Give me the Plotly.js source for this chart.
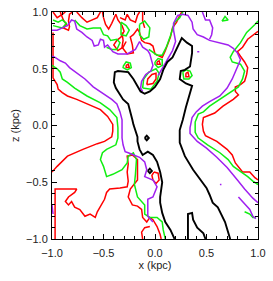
<!DOCTYPE html>
<html><head><meta charset="utf-8">
<script src="https://cdn.plot.ly/plotly-3.0.1.min.js"></script>
<style>html,body{margin:0;padding:0;background:#fff}#chart{width:273px;height:281px}</style>
</head><body><div id="chart"></div>
<script>
// ---- black contour (x in kpc, z in kpc) ----
const blackMainX = [0.19,0.15,0.10,0.07,0.05,0.05,0.07,0.05,0.02,-0.02,-0.07,-0.12,-0.15,-0.17,-0.17,-0.19,-0.21,-0.22,-0.24,-0.26,-0.31,-0.34,-0.38,-0.40,-0.39,-0.36,-0.26,-0.21,-0.17,-0.14,-0.10,-0.05,0.00,0.05,0.08,0.12,0.17,0.21,0.26,0.31,0.36,0.36,0.34,0.29,0.25,0.24,0.30,0.36,0.33,0.30,0.27,0.24,0.24,0.29,0.37,0.44,0.50,0.53,0.56,0.61,0.65,0.68,0.71,0.73];
const blackMainZ = [-1.00,-0.92,-0.85,-0.77,-0.68,-0.63,-0.50,-0.41,-0.32,-0.26,-0.23,-0.26,-0.21,-0.14,-0.10,-0.05,0.01,0.05,0.12,0.19,0.23,0.27,0.33,0.38,0.47,0.48,0.47,0.41,0.34,0.30,0.28,0.30,0.34,0.41,0.49,0.56,0.60,0.67,0.77,0.73,0.70,0.64,0.52,0.49,0.48,0.41,0.37,0.35,0.26,0.16,0.05,-0.04,-0.15,-0.27,-0.39,-0.48,-0.55,-0.61,-0.68,-0.72,-0.80,-0.85,-0.94,-1.00];
const blackLoopX = [0.32,0.32,0.36,0.37,0.41,0.47,0.49];
const blackLoopZ = [-1.00,-0.78,-0.77,-0.83,-0.90,-0.95,-1.00];
const blackRing1X = [-0.07,-0.05,-0.03,-0.05,-0.07];
const blackRing1Z = [-0.40,-0.38,-0.40,-0.42,-0.40];
const blackRing2X = [-0.10,-0.08,-0.06,-0.08,-0.10];
const blackRing2Z = [-0.11,-0.09,-0.11,-0.13,-0.11];

// ---- purple contour ----
const purpleLeftX = [-1.00,-0.97,-0.92,-0.87,-0.83,-0.76,-0.68,-0.60,-0.53,-0.49,-0.42,-0.37,-0.34,-0.32,-0.32,-0.32,-0.31,-0.29,-0.26,-0.21,-0.15,-0.10,-0.08,-0.10,-0.02,0.02,-0.02,-0.07,-0.07,-0.02];
const purpleLeftZ = [0.61,0.60,0.57,0.55,0.51,0.46,0.41,0.34,0.30,0.27,0.23,0.19,0.12,0.05,-0.02,-0.11,-0.17,-0.23,-0.24,-0.26,-0.28,-0.32,-0.39,-0.45,-0.48,-0.54,-0.63,-0.65,-0.80,-0.85];
const purpleTopX = [-1.00,-0.95,-0.90,-0.85,-0.81,-0.78,-0.76,-0.71,-0.66,-0.61,-0.59,-0.55,-0.53,-0.50,-0.49,-0.46,-0.41,-0.36,-0.32,-0.27,-0.19,-0.15,-0.12,-0.07,-0.05,-0.03,-0.02,-0.04,-0.09,-0.13,-0.14,-0.12];
const purpleTopZ = [0.84,0.84,0.86,0.88,0.93,0.92,0.85,0.82,0.78,0.75,0.70,0.71,0.76,0.75,0.69,0.71,0.65,0.63,0.63,0.63,0.67,0.74,0.69,0.66,0.63,0.57,0.53,0.48,0.45,0.39,0.33,0.30];
const purpleRightX = [0.03,0.08,0.12,0.17,0.20,0.18,0.18,0.22,0.27,0.32,0.36,0.37,0.41,0.47,0.53,0.63,0.71,0.76,0.80,0.83,0.80,0.75,0.70,0.63,0.53,0.46,0.40,0.36,0.34,0.34,0.41,0.50,0.60,0.70,0.80,0.87,0.95,1.00];
const purpleRightZ = [0.44,0.52,0.59,0.66,0.74,0.84,0.90,0.97,0.98,0.97,0.91,0.85,0.80,0.78,0.75,0.73,0.71,0.68,0.64,0.58,0.51,0.41,0.33,0.26,0.21,0.17,0.12,0.07,-0.02,-0.07,-0.14,-0.20,-0.28,-0.37,-0.48,-0.56,-0.64,-0.68];
const purpleTongueX = [0.46,0.49,0.53,0.56,0.55,0.53];
const purpleTongueZ = [1.00,0.93,0.93,0.86,0.80,0.76];
const purpleLowX = [0.81,0.85,0.92,0.95,0.98];
const purpleLowZ = [-0.63,-0.67,-0.74,-0.80,-0.82];
const purpleEdgeX = [-1.00,-0.99];
const purpleEdgeZ = [-0.70,-0.78];
const purpleDot1X = [0.41,0.43];
const purpleDot1Z = [0.65,0.65];
const purpleDot2X = [0.63,0.645];
const purpleDot2Z = [-0.52,-0.52];

// ---- green contour ----
const greenLeftX = [-1.00,-0.95,-0.92,-0.90,-0.85,-0.78,-0.66,-0.53,-0.44,-0.37,-0.36,-0.36,-0.38,-0.42,-0.47,-0.51,-0.53,-0.50,-0.47,-0.41,-0.32,-0.27,-0.26,-0.21,-0.18,-0.19,-0.20,-0.17,-0.10,-0.10,-0.05,0.02,0.07,0.08,0.10];
const greenLeftZ = [0.53,0.50,0.47,0.41,0.38,0.33,0.26,0.20,0.14,0.07,-0.02,-0.11,-0.17,-0.19,-0.21,-0.24,-0.30,-0.36,-0.45,-0.43,-0.39,-0.33,-0.27,-0.24,-0.30,-0.43,-0.52,-0.63,-0.70,-0.78,-0.81,-0.81,-0.85,-0.92,-1.00];
const greenRightX = [1.00,0.97,0.89,0.83,0.76,0.73,0.75,0.83,0.87,0.85,0.81,0.73,0.63,0.53,0.47,0.42,0.39,0.39,0.42,0.51,0.63,0.71,0.76,0.84,0.90,0.95,1.00];
const greenRightZ = [0.92,0.89,0.82,0.73,0.65,0.60,0.56,0.54,0.48,0.41,0.34,0.29,0.23,0.17,0.12,0.10,0.03,-0.06,-0.11,-0.17,-0.24,-0.30,-0.36,-0.41,-0.45,-0.49,-0.52];
const greenLowX = [0.87,0.92,0.95,0.98];
const greenLowZ = [-0.76,-0.78,-0.81,-0.81];
const greenTop1X = [-0.99,-0.94,-0.90,-0.86,-0.90,-0.95,-0.99];
const greenTop1Z = [0.93,0.91,0.93,0.90,0.86,0.87,0.88];
const greenTop2X = [-0.78,-0.73,-0.66,-0.60,-0.53,-0.50,-0.46,-0.43,-0.37,-0.34,-0.37,-0.42,-0.47];
const greenTop2Z = [0.93,0.88,0.85,0.86,0.86,0.80,0.79,0.75,0.76,0.73,0.67,0.67,0.69];
const greenTop3X = [-0.33,-0.28,-0.25,-0.28,-0.33,-0.33];
const greenTop3Z = [0.91,0.88,0.84,0.79,0.80,0.91];
const greenTop4X = [-0.15,-0.10,-0.05,-0.06,-0.11,-0.15,-0.15];
const greenTop4Z = [0.89,0.92,0.86,0.78,0.76,0.80,0.89];
const greenBandX = [-0.06,-0.03,0.02,0.07,0.11,0.15,0.17,0.19,0.24,0.27];
const greenBandZ = [0.67,0.65,0.62,0.62,0.69,0.79,0.85,0.91,0.95,1.00];
const greenBlob1X = [-0.12,-0.11,-0.06,0.01,0.04,0.02,-0.04,-0.12];
const greenBlob1Z = [0.33,0.41,0.47,0.50,0.46,0.39,0.32,0.33];
const greenBlob2X = [0.00,0.03,0.07,0.07,0.03,0.00,0.00];
const greenBlob2Z = [0.56,0.59,0.58,0.53,0.51,0.54,0.56];
const greenBlob3X = [-0.31,-0.28,-0.24,-0.23,-0.27,-0.31,-0.31];
const greenBlob3Z = [0.52,0.56,0.55,0.51,0.49,0.51,0.52];
const greenBlob4X = [0.27,0.30,0.34,0.36,0.33,0.28,0.27];
const greenBlob4Z = [0.47,0.49,0.48,0.44,0.41,0.41,0.47];
const greenSpeckX = [0.65,0.68,0.71,0.65];
const greenSpeckZ = [0.92,0.96,0.93,0.92];

// ---- red contour ----
const redLeftX = [-0.99,-0.99,-0.95,-0.94,-0.90,-0.85,-0.76,-0.65,-0.53,-0.46,-0.41,-0.41,-0.42,-0.49,-0.56,-0.70,-0.85,-0.95,-1.00];
const redLeftZ = [0.82,0.42,0.36,0.32,0.29,0.26,0.23,0.19,0.14,0.08,0.01,-0.05,-0.10,-0.14,-0.16,-0.21,-0.27,-0.36,-0.41];
const redLowX = [-0.97,-0.97,-0.92,-0.76,-0.78,-0.84,-0.87,-0.84,-0.81,-0.78,-0.73,-0.68,-0.63,-0.58,-0.56,-0.53,-0.49,-0.47,-0.44,-0.34,-0.27,-0.26,-0.27,-0.26,-0.27,-0.22,-0.17,-0.17,-0.17,-0.24,-0.26,-0.22,-0.17,-0.13,-0.12,-0.08,-0.05,-0.02,0.02,0.05,0.06];
const redLowZ = [-1.00,-0.56,-0.56,-0.56,-0.59,-0.63,-0.67,-0.70,-0.67,-0.72,-0.74,-0.80,-0.78,-0.81,-0.76,-0.71,-0.65,-0.59,-0.56,-0.55,-0.54,-0.49,-0.41,-0.34,-0.27,-0.26,-0.30,-0.39,-0.48,-0.56,-0.63,-0.70,-0.71,-0.74,-0.81,-0.85,-0.81,-0.83,-0.89,-0.96,-1.00];
const redFootX = [-0.12,-0.13,-0.10,-0.05];
const redFootZ = [-1.00,-0.94,-0.90,-0.89];
const redRingX = [-0.01,0.03,0.04,0.01,-0.02,-0.03,-0.01];
const redRingZ = [-0.41,-0.42,-0.48,-0.51,-0.48,-0.44,-0.41];
const redRightX = [1.00,0.90,0.85,0.80,0.83,0.87,0.90,0.89,0.87,0.83,0.78,0.78,0.81,0.76,0.66,0.58,0.47,0.46,0.47,0.49,0.60,0.70,0.75,0.78,0.85,0.92,0.97,1.00];
const redRightZ = [0.83,0.76,0.69,0.65,0.61,0.56,0.51,0.45,0.39,0.36,0.34,0.30,0.27,0.23,0.17,0.11,0.07,0.01,-0.05,-0.09,-0.14,-0.21,-0.26,-0.33,-0.41,-0.41,-0.46,-0.48];
const redTop1X = [-0.99,-0.95,-0.90,-0.87];
const redTop1Z = [1.00,0.95,0.98,1.00];
const redTop2X = [-0.92,-0.89,-0.86,-0.89,-0.84,-0.83,-0.84,-0.83,-0.80];
const redTop2Z = [1.00,0.93,0.89,0.86,0.84,0.87,0.92,0.98,1.00];
const redTop3X = [-0.76,-0.71,-0.66,-0.61,-0.56,-0.53];
const redTop3Z = [1.00,0.95,0.91,0.93,0.95,1.00];
const redTop4X = [-0.51,-0.50,-0.48,-0.45,-0.42,-0.38,-0.36,-0.32,-0.30,-0.33,-0.37,-0.40,-0.36,-0.31,-0.28];
const redTop4Z = [1.00,0.95,0.89,0.85,0.90,0.98,0.93,0.88,0.83,0.78,0.75,0.71,0.66,0.69,0.74];
const redTop5X = [-0.32,-0.31,-0.32,-0.27,-0.21,-0.22,-0.24,-0.21,-0.17,-0.15,-0.13,-0.10,-0.05,-0.02,0.00,0.07,0.10,0.12,0.15,0.17,0.21,0.24,0.26];
const redTop5Z = [0.82,0.75,0.69,0.63,0.64,0.71,0.78,0.80,0.85,0.82,0.75,0.73,0.72,0.70,0.63,0.60,0.66,0.71,0.78,0.86,0.91,0.97,1.00];
const redTop6X = [-0.12,-0.12,-0.10];
const redTop6Z = [1.00,0.92,0.86];
const redTop7X = [-0.34,-0.29,-0.27,-0.24,-0.19,-0.17,-0.15];
const redTop7Z = [0.95,0.93,0.98,0.93,0.91,0.97,1.00];
const redBlob1X = [-0.08,-0.07,-0.03,0.01,0.01,-0.02,-0.08];
const redBlob1Z = [0.36,0.41,0.45,0.46,0.41,0.37,0.36];
const redBlob2X = [0.02,0.04,0.05,0.02,0.02];
const redBlob2Z = [0.56,0.57,0.54,0.54,0.56];
const redBlob3X = [-0.28,-0.26,-0.25,-0.28,-0.28];
const redBlob3Z = [0.53,0.54,0.51,0.51,0.53];
const redBlob4X = [0.30,0.32,0.33,0.30,0.30];
const redBlob4Z = [0.46,0.47,0.43,0.43,0.46];

const xTickVals = [-1.0,-0.5,0.0,0.5,1.0];
const zTickVals = [-1.0,-0.5,0.0,0.5,1.0];

function joinSegs(segs){
  const out = [];
  segs.forEach((s,i)=>{ if(i) out.push(null); s.forEach(v=>out.push(v)); });
  return out;
}

const groups = [
  {color:'#ff0000', w:1.5, xs:[redLeftX,redLowX,redFootX,redRingX,redRightX,redTop1X,redTop2X,redTop3X,redTop4X,redTop5X,redTop6X,redTop7X,redBlob1X,redBlob2X,redBlob3X,redBlob4X],
                    zs:[redLeftZ,redLowZ,redFootZ,redRingZ,redRightZ,redTop1Z,redTop2Z,redTop3Z,redTop4Z,redTop5Z,redTop6Z,redTop7Z,redBlob1Z,redBlob2Z,redBlob3Z,redBlob4Z]},
  {color:'#11ee11', w:1.5, xs:[greenLeftX,greenRightX,greenLowX,greenTop1X,greenTop2X,greenTop3X,greenTop4X,greenBandX,greenBlob1X,greenBlob2X,greenBlob3X,greenBlob4X,greenSpeckX],
                    zs:[greenLeftZ,greenRightZ,greenLowZ,greenTop1Z,greenTop2Z,greenTop3Z,greenTop4Z,greenBandZ,greenBlob1Z,greenBlob2Z,greenBlob3Z,greenBlob4Z,greenSpeckZ]},
  {color:'#a020f0', w:1.5, xs:[purpleLeftX,purpleTopX,purpleRightX,purpleTongueX,purpleLowX,purpleEdgeX,purpleDot1X,purpleDot2X],
                    zs:[purpleLeftZ,purpleTopZ,purpleRightZ,purpleTongueZ,purpleLowZ,purpleEdgeZ,purpleDot1Z,purpleDot2Z]},
  {color:'#000000', w:1.9, xs:[blackMainX,blackLoopX,blackRing1X,blackRing2X],
                    zs:[blackMainZ,blackLoopZ,blackRing1Z,blackRing2Z]}
];

const traces = groups.map(g=>({
  type:'scatter', mode:'lines', x:joinSegs(g.xs), y:joinSegs(g.zs),
  line:{color:g.color, width:g.w}, connectgaps:false, hoverinfo:'skip', showlegend:false
}));
// empty trace to carry the minor-tick overlay axes
traces.push({type:'scatter', mode:'lines', x:[null], y:[null], xaxis:'x2', yaxis:'y2', hoverinfo:'skip', showlegend:false});

const fontFam = 'Liberation Sans, Arial, sans-serif';
const axisBase = {
  range:[-1,1], showgrid:false, zeroline:false,
  showline:true, linecolor:'#000', linewidth:1, mirror:'allticks',
  ticks:'inside', ticklen:5, tickwidth:1, tickcolor:'#000',
  tickformat:'.1f', tickmode:'array',
  tickfont:{family:fontFam, size:11, color:'#222'}
};
const minorBase = {
  range:[-1,1], showgrid:false, zeroline:false, showline:false,
  mirror:'allticks', ticks:'inside', ticklen:3, tickwidth:1, tickcolor:'#000',
  tickmode:'linear', tick0:-1, dtick:0.1, showticklabels:false
};

const layout = {
  width:273, height:281,
  margin:{l:52, r:15, t:12, b:42, pad:0},
  paper_bgcolor:'#fff', plot_bgcolor:'#fff',
  font:{family:fontFam, size:11, color:'#222'},
  xaxis:Object.assign({}, axisBase, {tickvals:xTickVals, ticklabelstandoff:4, title:{text:'x (kpc)', standoff:3, font:{size:11}}}),
  yaxis:Object.assign({}, axisBase, {tickvals:zTickVals, ticklabelstandoff:1, title:{text:'z (kpc)', standoff:4, font:{size:11}}}),
  xaxis2:Object.assign({}, minorBase, {overlaying:'x', anchor:'y2'}),
  yaxis2:Object.assign({}, minorBase, {overlaying:'y', anchor:'x2'}),
  showlegend:false, hovermode:false
};

Plotly.newPlot('chart', traces, layout, {displayModeBar:false, staticPlot:true});
</script>
</body></html>
